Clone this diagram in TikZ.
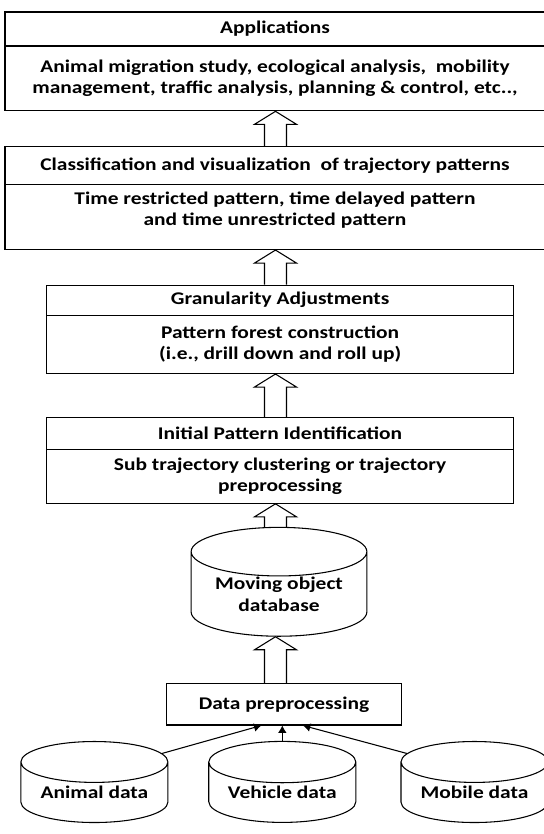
\documentclass[tikz,border=0pt]{standalone}
\usepackage{fontspec}
\setmainfont{Carlito}[FakeStretch=1.2]
\usetikzlibrary{shapes.geometric, arrows.meta, calc}

\begin{document}
\begin{tikzpicture}[x=0.75pt, y=-0.75pt,
    hd/.style={rectangle, draw, line width=0.8pt, inner sep=0pt, align=center,
               font=\fontsize{13.4}{15.6}\selectfont\bfseries},
    bd/.style={hd},
    store/.style={cylinder, shape border rotate=90, draw, line width=0.8pt, fill=white,
               aspect=0.38, inner sep=0pt, align=center,
               font=\fontsize{13.4}{15.6}\selectfont\bfseries},
    arr/.style={-{Latex[length=5.5pt, width=6.5pt]}, line width=0.8pt},
    hollow/.style={line width=0.8pt, to path={let \p1=(\tikztostart), \p2=(\tikztotarget) in
        (\x1-8.25pt,\y1) -- (\x1-8.25pt,\y2-9.75pt) -- (\x1-15.75pt,\y2-9.75pt) -- (\x1,\y2)
        -- (\x1+15.75pt,\y2-9.75pt) -- (\x1+8.25pt,\y2-9.75pt) -- (\x1+8.25pt,\y1)}}
]
\useasboundingbox (0,0) rectangle (543,834);

\node[hd, minimum width=405pt, minimum height=25.5pt] (apphd) at (275,29) {Applications};
\node[bd, minimum width=405pt, minimum height=48.6pt] (app) at (275,78.4)
    {Animal migration study, ecological analysis,~ mobility\\management, traffic analysis, planning \& control, etc..,};

\node[hd, minimum width=405pt, minimum height=28.4pt] (clshd) at (275,165.5)
    {Classification and visualization~ of trajectory patterns};
\node[bd, minimum width=405pt, minimum height=48.8pt] (cls) at (275,217)
    {Time restricted pattern, time delayed pattern\\and time unrestricted pattern\\[-2.6pt]\mbox{}};

\node[hd, minimum width=350.1pt, minimum height=22.65pt] (granhd) at (280.1,300.2) {Granularity Adjustments};
\node[bd, minimum width=350.1pt, minimum height=43.65pt] (gran) at (280.1,344.4)
    {Pattern forest construction\\(i.e., drill down and roll up)};

\node[hd, minimum width=350.1pt, minimum height=23.9pt] (inithd) at (280.1,433.75) {Initial Pattern Identification};
\node[bd, minimum width=350.1pt, minimum height=40.2pt] (init) at (280.1,476.5)
    {Sub trajectory clustering or trajectory\\preprocessing};

\node[store, minimum width=131.8pt, minimum height=78.75pt] (mod) at (279,594.2)
    {Moving object\\[1.5pt]database};
\node[hd, minimum width=176.8pt, minimum height=31.1pt] (prep) at (284,704.25) {Data preprocessing};

\node[store, minimum width=110.3pt, minimum height=60.75pt] (animal)  at (94.4,792.5)  {Animal data};
\node[store, minimum width=110.3pt, minimum height=60.75pt] (vehicle) at (282.3,792.5) {Vehicle data};
\node[store, minimum width=110.3pt, minimum height=60.75pt] (mobile)  at (474.5,792.5) {Mobile data};

% block arrows up the stack
\coordinate (axis) at (275.5,0);
\draw[hollow] (clshd.north -| axis) to (app.south);
\draw[hollow] (granhd.north -| axis) to (cls.south);
\draw[hollow] (inithd.north -| axis) to (gran.south);
\draw[hollow] (mod.north -| axis) to (init.south);
\draw[hollow] (prep.north -| axis) to (mod.south);

\draw[arr] (animal.30) -- ([xshift=-17pt]prep.south);
\draw[arr] (vehicle.north) -- (vehicle.north |- prep.south);
\draw[arr] (mobile.150) -- ([xshift=14.25pt]prep.south);

\end{tikzpicture}
\end{document}
